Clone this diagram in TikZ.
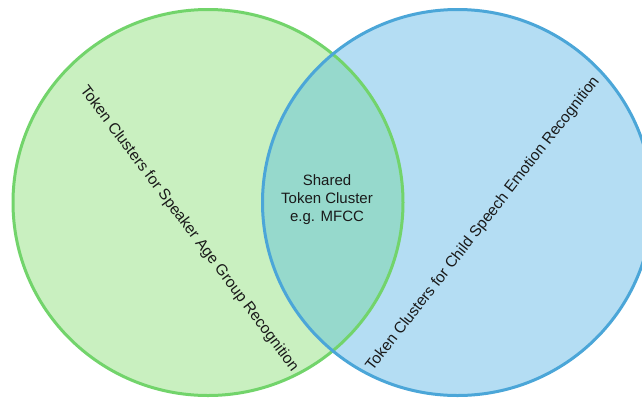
\documentclass[tikz,border=0pt]{standalone}
\usepackage{fontspec}
\setmainfont{Liberation Sans}
\begin{document}
\begin{tikzpicture}[x=1pt,y=-1pt]
  \definecolor{agefill}{HTML}{C9F0C0}
  \definecolor{ageline}{HTML}{72D46B}
  \definecolor{emofill}{HTML}{B4DDF3}
  \definecolor{emoline}{HTML}{4BA6D8}
  \definecolor{bothfill}{HTML}{96D9CC}
  \definecolor{labeltext}{HTML}{1A1A1A}
  \tikzset{
    setshape/.style={x radius=195, y radius=193},
    ringline/.style={line width=3pt},
    tilted/.style={text=labeltext, font=\fontsize{15.5}{18}\selectfont, inner sep=0pt},
    middle/.style={text=labeltext, align=center, font=\fontsize{15}{18}\selectfont, inner sep=0pt}
  }
  \useasboundingbox (0,0) rectangle (642,400);
  \fill[white] (0,0) rectangle (642,400);

  \coordinate (agec) at (208,202.5);
  \coordinate (emoc) at (457.5,202.5);

  % set areas
  \fill[agefill] (agec) ellipse [setshape];
  \fill[emofill] (emoc) ellipse [setshape];
  \begin{scope}
    \clip (agec) ellipse [setshape];
    \fill[bothfill] (emoc) ellipse [setshape];
  \end{scope}

  % outlines
  \draw[ringline, ageline] (agec) ellipse [setshape];
  \draw[ringline, emoline] (emoc) ellipse [setshape];

  % labels
  \node[tilted, rotate=-53] (agelabel) at (189,229) {Token Clusters for Speaker Age Group Recognition};
  \node[tilted, rotate=52] (emolabel) at (483,224) {Token Clusters for Child Speech Emotion Recognition};
  \node[middle] (shared) at (327,200) {Shared\\Token Cluster\\e.g. MFCC};
\end{tikzpicture}
\end{document}
